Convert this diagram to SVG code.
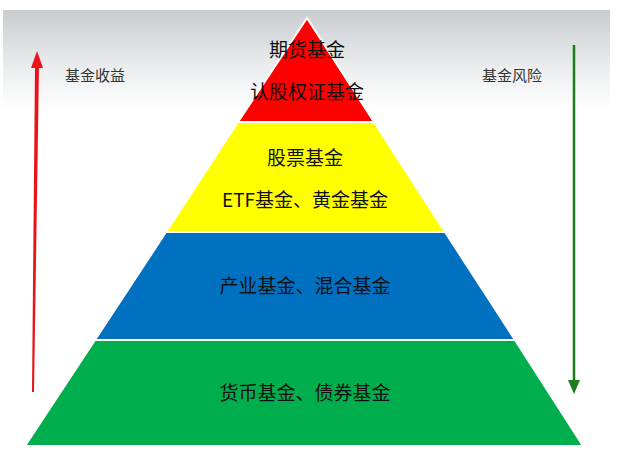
<svg xmlns="http://www.w3.org/2000/svg" width="620" height="470" viewBox="0 0 620 470">
<defs>
<linearGradient id="bg" x1="0" y1="0" x2="0" y2="1"><stop offset="0" stop-color="#c9cdd0"/><stop offset="0.6" stop-color="#eceeef"/><stop offset="1" stop-color="#ffffff"/></linearGradient>
</defs>
<style>
text{font-family:"Noto Sans CJK SC","Liberation Sans",sans-serif;fill:#111;text-anchor:middle}
.t{font-size:19px}.s{font-size:15px;fill:#333}
.tier{stroke:#fff;stroke-width:2}
</style>
<rect width="620" height="470" fill="#fff"/>
<rect x="3" y="10" width="607" height="100" fill="url(#bg)"/>
<g id="connectors">
<polygon points="32,392 34,392 39,66 35,66" fill="#e8141a"/>
<polygon points="31,68 37,51 43,68" fill="#e8141a"/>
<line x1="574" y1="45" x2="574" y2="382" stroke="#1b7d1b" stroke-width="2.5"/>
<polygon points="568,380 580,380 574,394" fill="#1b7d1b"/>
</g>
<g id="tier4"><polygon class="tier" points="95,340 515,340 583,446 25,446" fill="#00ae4d"/><text class="t" x="305" y="400">货币基金、债券基金</text></g>
<g id="tier3"><polygon class="tier" points="166,232 445,232 515,340 95,340" fill="#0070c0"/><text class="t" x="305" y="293">产业基金、混合基金</text></g>
<g id="tier2"><polygon class="tier" points="238,122 374,122 445,232 166,232" fill="#ffff00"/><text class="t" x="305" y="165">股票基金</text><text class="t" x="305" y="207">ETF基金、黄金基金</text></g>
<g id="tier1"><polygon class="tier" points="307,18 374,122 238,122" fill="#ff0000"/><text class="t" x="307" y="57">期货基金</text><text class="t" x="307" y="99">认股权证基金</text></g>
<g id="label-left"><text class="s" x="95" y="81">基金收益</text></g>
<g id="label-right"><text class="s" x="512" y="81">基金风险</text></g>
</svg>
